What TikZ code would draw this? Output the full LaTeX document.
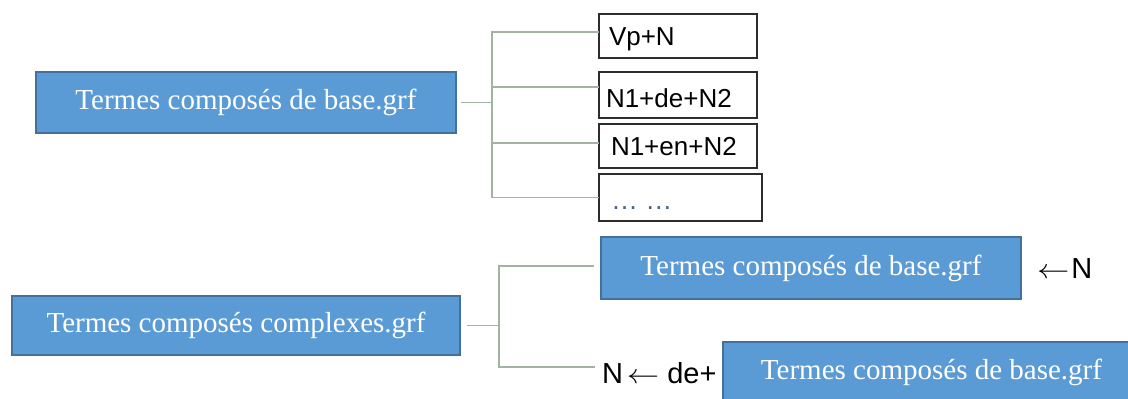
\documentclass[tikz,border=0pt]{standalone}
\usepackage{fontspec}
\setmainfont{Liberation Serif}
\newfontfamily\arialish{Liberation Sans}
\definecolor{blueFill}{HTML}{5B9BD5}
\definecolor{blueLine}{HTML}{41719C}
\definecolor{connGray}{RGB}{163,178,163}
\definecolor{boxLine}{RGB}{45,45,48}
\definecolor{dotInk}{RGB}{70,100,140}
\newcommand{\larr}{\scalebox{1.3}[1.1]{$\leftarrow$}}
\tikzset{
  every node/.style={outer sep=0pt},
  bluebox/.style={draw=blueLine, line width=1.4pt, fill=blueFill, text=white,
    inner sep=0pt, anchor=north west, font=\fontsize{29}{34}\selectfont},
  patbox/.style={draw=boxLine, line width=1.8pt, fill=white, inner sep=0pt,
    anchor=north west},
  pattext/.style={anchor=base west, inner sep=0pt, text=black,
    font=\arialish\fontsize{26}{30}\selectfont},
  sidetext/.style={anchor=base west, inner sep=0pt, text=black,
    font=\arialish\fontsize{29}{34}\selectfont},
  conn/.style={draw=connGray, line width=1.8pt}
}
\begin{document}
\begin{tikzpicture}[x=1pt,y=-1pt]
  \useasboundingbox (0,0) rectangle (1128,399);
  \clip (0,0) rectangle (1128,399);
  \fill[white] (0,0) rectangle (1128,399);

  % ---- base compound terms ----
  \node[bluebox, minimum width=420pt, minimum height=61pt] (base) at (36,72)
    {Termes composés de base.grf};

  \node[patbox, minimum width=158pt, minimum height=44pt] (vp)   at (599,14)  {};
  \node[patbox, minimum width=158pt, minimum height=46pt] (de)   at (599,72)  {};
  \node[patbox, minimum width=158pt, minimum height=44pt] (en)   at (599,124) {};
  \node[patbox, minimum width=163pt, minimum height=47pt] (dots) at (599,174) {};

  \node[pattext] (vpT) at (609,45)  {Vp+N};
  \node[pattext] (deT) at (606,107) {N1+de+N2};
  \node[pattext] (enT) at (611,155) {N1+en+N2};
  \node[anchor=base west, inner sep=0pt, text=dotInk,
        font=\arialish\fontsize{27}{30}\selectfont] (dotsT) at (611,209) {… …};

  % branch points on the left edge of each pattern box
  \coordinate (vpIn) at ([yshift=4pt]vp.west);
  \coordinate (deIn) at ([yshift=8pt]de.west);
  \coordinate (enIn) at ([yshift=3pt]en.west);
  \coordinate (hubA) at (492,0);
  \draw[conn] ([xshift=5pt]base.east) -- (base.east -| hubA);
  \draw[conn] (vpIn) -| (hubA |- dots.west) -- (dots.west);
  \draw[conn] (hubA |- deIn) -- (deIn);
  \draw[conn] (hubA |- enIn) -- (enIn);

  % ---- complex compound terms ----
  \node[bluebox, minimum width=448pt, minimum height=59pt] (cplx) at (12,296)
    {Termes composés complexes.grf};
  \node[bluebox, minimum width=420pt, minimum height=62pt] (headN) at (601,237)
    {Termes composés de base.grf};
  \node[bluebox, minimum width=417pt, minimum height=61pt] (tailN) at (723,342)
    {Termes composés de base.grf};

  \node[sidetext] (arrN)  at (1037,278) {\larr\hspace{2pt}N};
  \node[sidetext] (arrDe) at (602,383)  {N\hspace{4pt}\larr\ de+};

  \coordinate (hubB) at (499,0);
  \coordinate (headIn) at ([xshift=-7pt,yshift=2pt]headN.west);
  \coordinate (tailIn) at ([xshift=-7pt,yshift=6pt]arrDe.west);
  \draw[conn] ([xshift=7pt]cplx.east) -- (cplx.east -| hubB);
  \draw[conn] (headIn) -| (hubB |- tailIn) -- (tailIn);
\end{tikzpicture}
\end{document}
